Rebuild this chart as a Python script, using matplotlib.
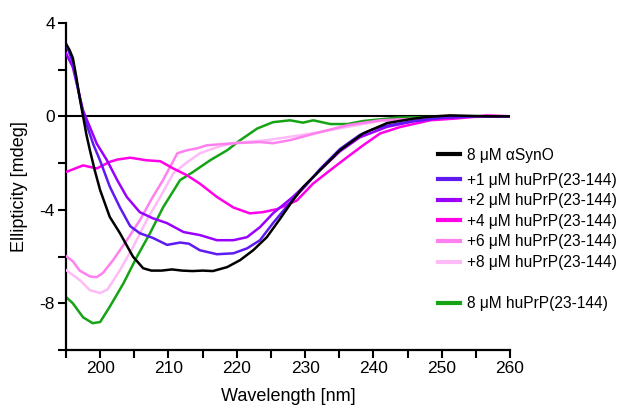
import matplotlib
matplotlib.use("Agg")
import matplotlib.pyplot as plt
from matplotlib.lines import Line2D
from matplotlib.ticker import MultipleLocator, FuncFormatter

plt.rcParams['font.family'] = ['Liberation Sans', 'DejaVu Sans']

# ---- data ----
wl_syn = [195, 195.5, 196, 196.5, 197, 197.5, 198, 198.5, 199.2, 200, 201.4, 202.9, 204.8, 206.3, 207.5, 209,
          210.5, 212, 213.5, 215, 216.5, 218.6, 220.5, 222.4, 224.4, 226.3, 228.2, 229.7, 232.2, 235.1, 238.5,
          242, 245.8, 248, 251.2, 254, 257, 260]
v_syn = [3.1, 2.85, 2.5, 1.7, 0.8, 0.0, -0.8, -1.45, -2.3, -3.16, -4.3, -5.0, -6.0, -6.5, -6.6, -6.6,
         -6.55, -6.6, -6.62, -6.6, -6.62, -6.45, -6.15, -5.73, -5.17, -4.4, -3.6, -3.03, -2.3, -1.45, -0.73,
         -0.29, -0.1, -0.02, 0.04, 0.02, 0.0, 0.0]

wl_p1 = [195, 196, 197.5, 199, 200, 201.4, 202.9, 204.4, 205.8, 207.7, 209.8, 211.7, 213, 214.6, 217.1, 219.5,
         221.5, 223.4, 225.3, 228.2, 230, 232.2, 235.1, 238, 240, 242, 245.8, 250, 255, 260]
v_p1 = [3.1, 2.3, 0.1, -1.2, -1.9, -3.0, -3.9, -4.7, -5.0, -5.2, -5.5, -5.4, -5.45, -5.73, -5.9, -5.86,
        -5.65, -5.3, -4.57, -3.55, -3.0, -2.25, -1.4, -0.8, -0.55, -0.4, -0.2, -0.05, 0.0, 0.0]

wl_p2 = [195, 196, 197.5, 199.5, 201, 202.5, 203.9, 205.8, 207.7, 209.8, 212.2, 214.6, 217.1, 219.5, 221.5,
         223.4, 225.3, 228.2, 230, 232.2, 235.1, 238, 242, 245.8, 250, 255, 260]
v_p2 = [2.7, 2.1, 0.25, -1.17, -1.88, -2.73, -3.45, -4.1, -4.36, -4.57, -4.95, -5.08, -5.3, -5.3, -5.17,
        -4.74, -4.15, -3.45, -2.95, -2.3, -1.5, -0.9, -0.45, -0.22, -0.07, 0.0, 0.0]

wl_p4 = [195, 196, 197.5, 199.5, 201.4, 202.5, 204.4, 206.8, 208.8, 210.7, 212.7, 214.6, 217.1, 219.5, 221.9,
         223.8, 225.9, 228.8, 231.2, 233.7, 236.2, 238.5, 241, 243.9, 248.3, 252.2, 256.6, 260]
v_p4 = [-2.38, -2.27, -2.1, -2.23, -1.95, -1.85, -1.77, -1.88, -1.92, -2.23, -2.52, -2.88, -3.45, -3.9, -4.15,
        -4.1, -3.97, -3.6, -2.87, -2.3, -1.74, -1.24, -0.73, -0.46, -0.17, -0.09, 0.04, 0.0]

wl_p6 = [195, 196, 197, 198.5, 199.5, 200.4, 201.9, 203.9, 205.8, 207.7, 209.2, 211.3, 212.7, 214.2, 215.6,
         219.5, 223.4, 225.3, 227.8, 231.2, 236.2, 241, 250, 260]
v_p6 = [-5.98, -6.2, -6.6, -6.85, -6.88, -6.7, -6.15, -5.3, -4.45, -3.45, -2.73, -1.58, -1.45, -1.37, -1.24,
        -1.15, -1.1, -1.15, -1.02, -0.75, -0.38, -0.17, -0.05, 0.0]

wl_p8 = [195, 197, 198.5, 200, 201.1, 202.9, 204.8, 206.8, 208.8, 210.7, 212.7, 214.6, 217.1, 219.5, 224.4,
         229.3, 232.2, 236.2, 241, 250, 260]
v_p8 = [-6.58, -7.0, -7.44, -7.56, -7.4, -6.58, -5.6, -4.45, -3.45, -2.44, -1.97, -1.58, -1.32, -1.15, -1.02,
        -0.81, -0.67, -0.45, -0.2, -0.05, 0.0]

wl_prp = [195, 196, 197.5, 198.9, 200, 201.4, 203.4, 205.4, 207.3, 209.2, 211.7, 213.6, 216.1, 218.6, 220.5,
          223, 225.3, 227.8, 229.7, 231.2, 233.7, 236.2, 238.5, 243.4, 248, 255, 260]
v_prp = [-7.73, -8.0, -8.6, -8.85, -8.8, -8.15, -7.15, -6.0, -5.0, -3.9, -2.73, -2.38, -1.88, -1.45, -1.02,
         -0.52, -0.25, -0.17, -0.27, -0.17, -0.33, -0.33, -0.2, -0.06, -0.03, 0.0, 0.0]

labels = ["8 μM αSynO", "+1 μM huPrP(23-144)", "+2 μM huPrP(23-144)", "+4 μM huPrP(23-144)",
          "+6 μM huPrP(23-144)", "+8 μM huPrP(23-144)", "8 μM huPrP(23-144)"]
colors = ["#000000", "#5e1af0", "#9b00ff", "#ff00e8", "#ff80ef", "#ffbaf8", "#16a316"]

xticks = [200, 210, 220, 230, 240, 250, 260]
yticks = [4, 0, -4, -8]

# ---- figure ----
fig = plt.figure(figsize=(6.25, 4.08), dpi=100)
ax = fig.add_axes([0.1056, 0.142, 0.7104, 0.802])

ax.axhline(0, color="black", lw=1.5, zorder=1)

series = [(wl_syn, v_syn), (wl_p1, v_p1), (wl_p2, v_p2), (wl_p4, v_p4),
          (wl_p6, v_p6), (wl_p8, v_p8), (wl_prp, v_prp)]
for i in [6, 5, 4, 3, 2, 1, 0]:
    x, y = series[i]
    ax.plot(x, y, color=colors[i], lw=1.8, zorder=2 + (6 - i), solid_joinstyle='round')

ax.set_xlim(195, 260)
ax.set_ylim(-10, 4)
ax.xaxis.set_major_locator(MultipleLocator(5))
ax.xaxis.set_major_formatter(FuncFormatter(lambda v, p: f"{int(round(v))}" if int(round(v)) in xticks else ""))
ax.yaxis.set_major_locator(MultipleLocator(2))
ax.yaxis.set_major_formatter(FuncFormatter(lambda v, p: f"{int(round(v))}" if int(round(v)) in yticks else ""))

for s in ["top", "right"]:
    ax.spines[s].set_visible(False)
for s in ["left", "bottom"]:
    ax.spines[s].set_linewidth(1.6)
ax.tick_params(axis="both", direction="out", length=6, width=1.5, labelsize=12.5, pad=2, colors="black")

ax.set_xlabel("Wavelength [nm]", fontsize=13, labelpad=8.5)
ax.set_ylabel("Ellipticity [mdeg]", fontsize=13, labelpad=8)

legkw = dict(loc="upper left", frameon=False, fontsize=11.2, handlelength=1.41, handletextpad=0.45,
             labelspacing=0.36, borderaxespad=0, borderpad=0)
h0 = [Line2D([], [], color=colors[0], lw=3)]
leg1 = fig.legend(h0, [labels[0]], bbox_to_anchor=(0.7008, 0.638), **legkw)
handles = [Line2D([], [], color=colors[i], lw=3) for i in range(1, 6)]
handles.append(Line2D([], [], color="none", lw=0))
handles.append(Line2D([], [], color=colors[6], lw=3))
leg2 = fig.legend(handles, labels[1:6] + [" "] + [labels[6]], bbox_to_anchor=(0.7008, 0.577), **legkw)

fig.savefig("out.png", dpi=100)
